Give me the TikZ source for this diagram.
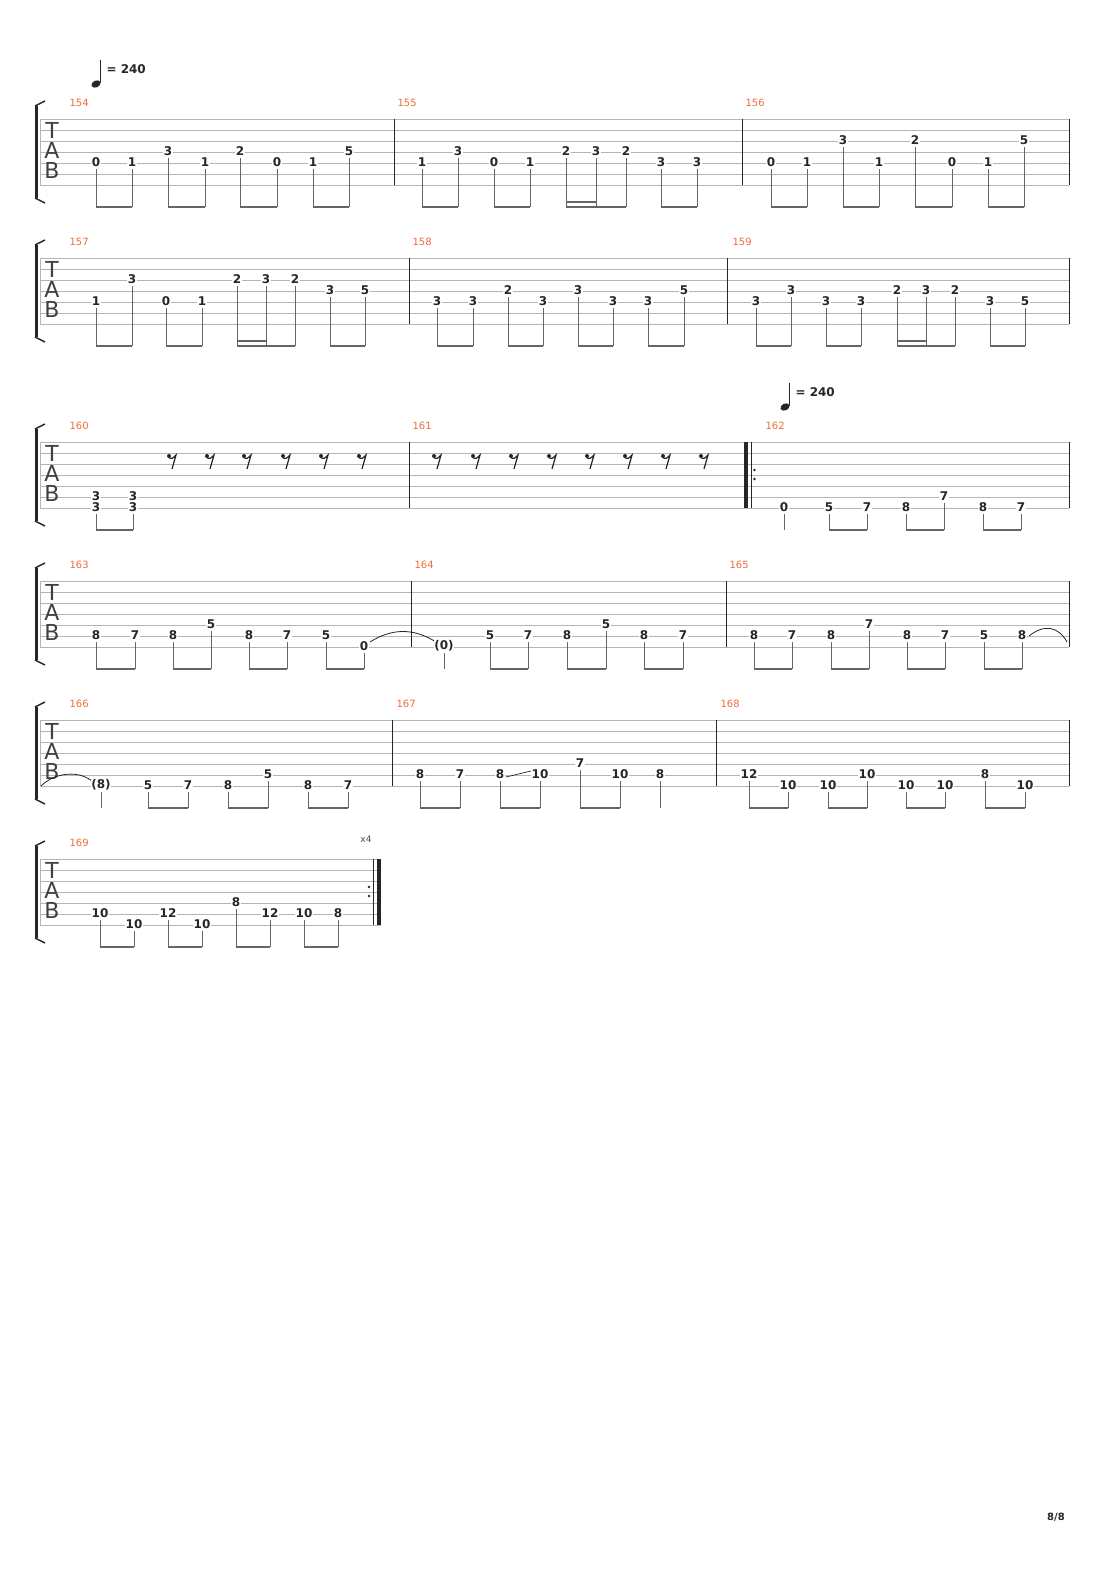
\documentclass[tikz,border=0pt]{standalone}
\usepackage{fontspec}
\setmainfont{DejaVu Sans}
\definecolor{org}{HTML}{F26B3A}
\definecolor{ln}{HTML}{B5B5B5}
\definecolor{st}{HTML}{666666}
\tikzset{
 num/.style={font=\bfseries\fontsize{12}{12}\selectfont,fill=white,inner sep=0.6pt,text=black!85},
 stemline/.style={draw=st,line width=0.8pt},
 beamline/.style={draw=st,line width=2.6pt},
 sl/.style={draw=ln,line width=0.8pt},
 barl/.style={draw=black!85,line width=1pt},
 lbl/.style={font=\fontsize{10}{10}\selectfont,text=org,anchor=west},
 tabl/.style={font=\fontsize{22}{22}\selectfont,text=black!75},
}
\newcommand\Nt[3]{\node[num] at (#1,\Y+11*#2-1) {#3};\draw[stemline] (#1,\Y+11*#2+6) -- (#1,\Y+88);}
\newcommand\Tx[3]{\node[num] at (#1,\Y+11*#2-1) {#3};}
\newcommand\Bm[2]{\draw[beamline] (#1-0.4,\Y+88) -- (#2+0.4,\Y+88);}
\newcommand\Bs[2]{\draw[beamline,line width=2pt] (#1,\Y+83) -- (#2,\Y+83);}
\newcommand\Br[1]{\draw[barl] (#1,\Y) -- (#1,\Y+66);}
\newcommand\Lb[2]{\node[lbl] at (#1-2,\Y-16) {#2};}
\newcommand\Staff[1]{%
 \foreach \k in {0,...,6} {\draw[sl] (40,\Y+11*\k) -- (#1,\Y+11*\k);}
 \draw[sl] (40,\Y) -- (40,\Y+66);
 \node[tabl] at (52,\Y+11) {T};\node[tabl] at (52,\Y+31) {A};\node[tabl] at (52,\Y+51) {B};
 \draw[line width=3pt,black!85] (36,\Y-13) -- (36,\Y+79);
 \draw[line width=1.5pt,black!85] (35,\Y-13) -- (45,\Y-18);
 \draw[line width=1.5pt,black!85] (35,\Y+79) -- (45,\Y+84);}
\newcommand\Rest[1]{\fill[black!85] (#1-3,\Y+14) circle (2);
 \draw[black!85,line width=1.2pt] (#1-3,\Y+16) .. controls (#1,\Y+17) .. (#1+4,\Y+13) -- (#1,\Y+27);}
\newcommand\Tempo[2]{\fill[black!85] (#1,#2) ellipse [x radius=4.8,y radius=3.4,rotate=25];
 \draw[black!85,line width=0.9pt] (#1+4.2,#2-1) -- (#1+4.2,#2-24);
 \node[font=\bfseries\fontsize{12}{12}\selectfont,text=black!85,anchor=west] at (#1+7,#2-15) {= 240};}
\begin{document}
\begin{tikzpicture}[x=1pt,y=-1pt]
\useasboundingbox (0,0) rectangle (1110,1570);
\fill[white] (0,0) rectangle (1110,1570);
% ---------- system 1
\def\Y{119}
\Tempo{96}{84}
\Staff{1069}
\Lb{68}{154}\Lb{396}{155}\Lb{744}{156}
\Br{394}\Br{742}\Br{1069}
\Nt{96}{4}{0}\Nt{132}{4}{1}\Nt{168}{3}{3}\Nt{205}{4}{1}\Nt{240}{3}{2}\Nt{277}{4}{0}\Nt{313}{4}{1}\Nt{349}{3}{5}
\Bm{96}{132}\Bm{168}{205}\Bm{240}{277}\Bm{313}{349}
\Nt{422}{4}{1}\Nt{458}{3}{3}\Nt{494}{4}{0}\Nt{530}{4}{1}\Nt{566}{3}{2}\Nt{596}{3}{3}\Nt{626}{3}{2}\Nt{661}{4}{3}\Nt{697}{4}{3}
\Bm{422}{458}\Bm{494}{530}\Bm{566}{626}\Bs{566}{596}\Bm{661}{697}
\Nt{771}{4}{0}\Nt{807}{4}{1}\Nt{843}{2}{3}\Nt{879}{4}{1}\Nt{915}{2}{2}\Nt{952}{4}{0}\Nt{988}{4}{1}\Nt{1024}{2}{5}
\Bm{771}{807}\Bm{843}{879}\Bm{915}{952}\Bm{988}{1024}
% ---------- system 2
\def\Y{258}
\Staff{1069}
\Lb{68}{157}\Lb{411}{158}\Lb{731}{159}
\Br{409}\Br{727}\Br{1069}
\Nt{96}{4}{1}\Nt{132}{2}{3}\Nt{166}{4}{0}\Nt{202}{4}{1}\Nt{237}{2}{2}\Nt{266}{2}{3}\Nt{295}{2}{2}\Nt{330}{3}{3}\Nt{365}{3}{5}
\Bm{96}{132}\Bm{166}{202}\Bm{237}{295}\Bs{237}{266}\Bm{330}{365}
\Nt{437}{4}{3}\Nt{473}{4}{3}\Nt{508}{3}{2}\Nt{543}{4}{3}\Nt{578}{3}{3}\Nt{613}{4}{3}\Nt{648}{4}{3}\Nt{684}{3}{5}
\Bm{437}{473}\Bm{508}{543}\Bm{578}{613}\Bm{648}{684}
\Nt{756}{4}{3}\Nt{791}{3}{3}\Nt{826}{4}{3}\Nt{861}{4}{3}\Nt{897}{3}{2}\Nt{926}{3}{3}\Nt{955}{3}{2}\Nt{990}{4}{3}\Nt{1025}{4}{5}
\Bm{756}{791}\Bm{826}{861}\Bm{897}{955}\Bs{897}{926}\Bm{990}{1025}
% ---------- system 3
\def\Y{442}
\Tempo{785}{407}
\Staff{1069}
\Lb{68}{160}\Lb{411}{161}\Lb{764}{162}
\Br{409}\Br{1069}
\draw[black!85,line width=3.5pt] (746,\Y) -- (746,\Y+66);
\draw[black!85,line width=0.8pt] (751,\Y) -- (751,\Y+66);
\fill[black!85] (754.5,470) circle (1.3) (754.5,479) circle (1.3);
\Tx{96}{5}{3}\Nt{96}{6}{3}\Tx{133}{5}{3}\Nt{133}{6}{3}\Bm{96}{133}
\foreach \x in {172,210,247,286,324,362,437,476,514,552,590,628,666,704} {\Rest{\x}}
\Nt{784}{6}{0}\Nt{829}{6}{5}\Nt{867}{6}{7}\Nt{906}{6}{8}\Nt{944}{5}{7}\Nt{983}{6}{8}\Nt{1021}{6}{7}
\Bm{829}{867}\Bm{906}{944}\Bm{983}{1021}
% ---------- system 4
\def\Y{581}
\Staff{1069}
\Lb{68}{163}\Lb{413}{164}\Lb{728}{165}
\Br{411}\Br{726}\Br{1069}
\Nt{96}{5}{8}\Nt{135}{5}{7}\Nt{173}{5}{8}\Nt{211}{4}{5}\Nt{249}{5}{8}\Nt{287}{5}{7}\Nt{326}{5}{5}\Nt{364}{6}{0}
\Bm{96}{135}\Bm{173}{211}\Bm{249}{287}\Bm{326}{364}
\draw[black!85,line width=0.8pt] (370,642) .. controls (392,628) and (414,628) .. (436,642);
\Nt{444}{6}{(0)}\Nt{490}{5}{5}\Nt{528}{5}{7}\Nt{567}{5}{8}\Nt{606}{4}{5}\Nt{644}{5}{8}\Nt{683}{5}{7}
\Bm{490}{528}\Bm{567}{606}\Bm{644}{683}
\Nt{754}{5}{8}\Nt{792}{5}{7}\Nt{831}{5}{8}\Nt{869}{4}{7}\Nt{907}{5}{8}\Nt{945}{5}{7}\Nt{984}{5}{5}\Nt{1022}{5}{8}
\Bm{754}{792}\Bm{831}{869}\Bm{907}{945}\Bm{984}{1022}
\draw[black!85,line width=0.8pt] (1029,636) .. controls (1044,624) and (1058,626) .. (1067,642);
% ---------- system 5
\def\Y{720}
\Staff{1069}
\Lb{68}{166}\Lb{395}{167}\Lb{719}{168}
\Br{392}\Br{716}\Br{1069}
\draw[black!85,line width=0.8pt] (41,786) .. controls (55,772) and (80,770) .. (93,782);
\Nt{101}{6}{(8)}\Nt{148}{6}{5}\Nt{188}{6}{7}\Nt{228}{6}{8}\Nt{268}{5}{5}\Nt{308}{6}{8}\Nt{348}{6}{7}
\Bm{148}{188}\Bm{228}{268}\Bm{308}{348}
\Nt{420}{5}{8}\Nt{460}{5}{7}\Nt{500}{5}{8}\Nt{540}{5}{10}\Nt{580}{4}{7}\Nt{620}{5}{10}\Nt{660}{5}{8}
\draw[black!85,line width=0.7pt] (506,777) -- (531,771);
\Bm{420}{460}\Bm{500}{540}\Bm{580}{620}
\Nt{749}{5}{12}\Nt{788}{6}{10}\Nt{828}{6}{10}\Nt{867}{5}{10}\Nt{906}{6}{10}\Nt{945}{6}{10}\Nt{985}{5}{8}\Nt{1025}{6}{10}
\Bm{749}{788}\Bm{828}{867}\Bm{906}{945}\Bm{985}{1025}
% ---------- system 6
\def\Y{859}
\Staff{381}
\Lb{68}{169}
\node[font=\fontsize{9}{9}\selectfont,text=black!70] at (366,839) {x4};
\Nt{100}{5}{10}\Nt{134}{6}{10}\Nt{168}{5}{12}\Nt{202}{6}{10}\Nt{236}{4}{8}\Nt{270}{5}{12}\Nt{304}{5}{10}\Nt{338}{5}{8}
\Bm{100}{134}\Bm{168}{202}\Bm{236}{270}\Bm{304}{338}
\fill[black!85] (369,887) circle (1.3) (369,896) circle (1.3);
\draw[black!85,line width=0.8pt] (373.5,\Y) -- (373.5,\Y+66);
\draw[black!85,line width=3.5pt] (379,\Y) -- (379,\Y+66);
% page number
\node[font=\bfseries\fontsize{10}{10}\selectfont,text=black!85] at (1056,1517) {8/8};
\end{tikzpicture}
\end{document}
